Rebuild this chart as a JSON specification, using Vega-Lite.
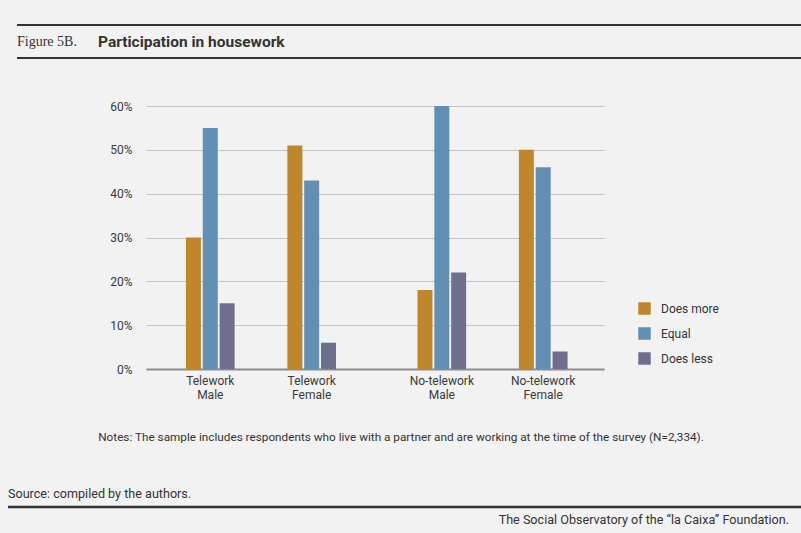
{
  "$schema": "https://vega.github.io/schema/vega-lite/v6.json",
  "background": "#f2f2f2",
  "padding": {"left": 6, "top": 24, "right": 0, "bottom": 8},
  "datasets": {
    "bars": [
      {"work": "Telework", "group": "Telework Male", "type": "Does more", "share": 0.30},
      {"work": "Telework", "group": "Telework Male", "type": "Equal", "share": 0.55},
      {"work": "Telework", "group": "Telework Male", "type": "Does less", "share": 0.15},
      {"work": "Telework", "group": "Telework Female", "type": "Does more", "share": 0.51},
      {"work": "Telework", "group": "Telework Female", "type": "Equal", "share": 0.43},
      {"work": "Telework", "group": "Telework Female", "type": "Does less", "share": 0.06},
      {"work": "No-telework", "group": "No-telework Male", "type": "Does more", "share": 0.18},
      {"work": "No-telework", "group": "No-telework Male", "type": "Equal", "share": 0.60},
      {"work": "No-telework", "group": "No-telework Male", "type": "Does less", "share": 0.22},
      {"work": "No-telework", "group": "No-telework Female", "type": "Does more", "share": 0.50},
      {"work": "No-telework", "group": "No-telework Female", "type": "Equal", "share": 0.46},
      {"work": "No-telework", "group": "No-telework Female", "type": "Does less", "share": 0.04}
    ]
  },
  "spacing": 41,
  "vconcat": [
    {
      "spacing": 0,
      "bounds": "flush",
      "hconcat": [
        {"width": 9, "height": 33, "data": {"values": []}, "mark": "rect"},
        {
          "width": 784,
          "height": 33,
          "layer": [
            {
              "data": {"values": [{"pos": "top"}, {"pos": "bottom"}]},
              "mark": {"type": "rule", "color": "#333333", "strokeWidth": 2},
              "encoding": {
                "y": {
                  "field": "pos",
                  "type": "nominal",
                  "scale": {"type": "point", "padding": 0, "domain": ["top", "mid", "bottom"]},
                  "axis": null
                }
              }
            },
            {
              "data": {"values": [{"pos": "mid", "part": "figure", "text": "Figure 5B."}]},
              "mark": {"type": "text", "align": "left", "baseline": "middle", "font": "Liberation Serif", "fontSize": 14, "color": "#333333"},
              "encoding": {
                "y": {"field": "pos", "type": "nominal"},
                "x": {"field": "part", "type": "nominal", "scale": {"type": "point", "padding": 0, "domain": ["figure", "title"], "range": [0, 81]}, "axis": null},
                "text": {"field": "text"}
              }
            },
            {
              "data": {"values": [{"pos": "mid", "part": "title", "text": "Participation in housework"}]},
              "mark": {"type": "text", "align": "left", "baseline": "middle", "font": "Roboto", "fontWeight": "bold", "fontSize": 15.5, "color": "#333333"},
              "encoding": {
                "y": {"field": "pos", "type": "nominal"},
                "x": {"field": "part", "type": "nominal"},
                "text": {"field": "text"}
              }
            }
          ]
        }
      ]
    },
    {
      "spacing": 32,
      "vconcat": [
        {
          "spacing": 0,
          "bounds": "flush",
          "hconcat": [
            {"width": 138, "height": 263, "data": {"values": []}, "mark": "rect"},
            {
              "width": 232,
              "height": 263,
              "data": {"name": "bars"},
              "transform": [{"filter": "datum.work == 'Telework'"}],
              "mark": "bar",
              "encoding": {
                "x": {
                  "field": "group",
                  "type": "nominal",
                  "sort": ["Telework Male", "Telework Female"],
                  "scale": {"paddingInner": 0.52, "paddingOuter": 0.404, "align": 0.4876},
                  "axis": {"title": null, "labelAngle": 0, "ticks": false, "domainColor": "#8c8c8c", "domainWidth": 2, "labelPadding": 6, "labelExpr": "split(datum.label, ' ')", "labelLineHeight": 14}
                },
                "xOffset": {
                  "field": "type",
                  "sort": ["Does more", "Equal", "Does less"],
                  "scale": {"paddingInner": 0.11, "paddingOuter": 0}
                },
                "y": {
                  "field": "share",
                  "type": "quantitative",
                  "scale": {"domain": [0, 0.6]},
                  "axis": {"title": null, "format": ".0%", "values": [0, 0.1, 0.2, 0.3, 0.4, 0.5, 0.6], "ticks": false, "domain": false, "labelPadding": 14}
                },
                "color": {
                  "field": "type",
                  "type": "nominal",
                  "scale": {"domain": ["Does more", "Equal", "Does less"], "range": ["#c0872a", "#6290b4", "#6f6f8d"]},
                  "legend": {"orient": "none", "legendX": 630, "legendY": 277, "title": null, "symbolType": "square", "symbolSize": 156, "symbolStrokeWidth": 0, "labelFontSize": 12, "labelColor": "#333333", "rowPadding": 12, "labelOffset": 10}
                }
              }
            },
            {
              "width": 226,
              "height": 263,
              "data": {"name": "bars"},
              "transform": [{"filter": "datum.work == 'No-telework'"}],
              "mark": "bar",
              "encoding": {
                "x": {
                  "field": "group",
                  "type": "nominal",
                  "sort": ["No-telework Male", "No-telework Female"],
                  "scale": {"paddingInner": 0.52, "paddingOuter": 0.3744, "align": 0.52},
                  "axis": {"title": null, "labelAngle": 0, "ticks": false, "domainColor": "#8c8c8c", "domainWidth": 2, "labelPadding": 6, "labelExpr": "split(datum.label, ' ')", "labelLineHeight": 14}
                },
                "xOffset": {
                  "field": "type",
                  "sort": ["Does more", "Equal", "Does less"],
                  "scale": {"paddingInner": 0.11, "paddingOuter": 0}
                },
                "y": {
                  "field": "share",
                  "type": "quantitative",
                  "scale": {"domain": [0, 0.6]},
                  "axis": {"title": null, "labels": false, "values": [0, 0.1, 0.2, 0.3, 0.4, 0.5, 0.6], "ticks": false, "domain": false, "minExtent": 0, "maxExtent": 0}
                },
                "color": {"field": "type", "type": "nominal"}
              }
            }
          ]
        },
        {
          "width": 793,
          "height": 26,
          "title": {"text": "Notes: The sample includes respondents who live with a partner and are working at the time of the survey (N=2,334).", "orient": "top", "anchor": "middle", "fontSize": 11.75, "fontWeight": "normal", "color": "#333333", "offset": 44, "dx": -3.5},
          "layer": [
            {
              "data": {"values": [{"pos": "rule"}]},
              "mark": {"type": "rule", "color": "#333333", "strokeWidth": 2.5},
              "encoding": {
                "y": {"field": "pos", "type": "nominal", "scale": {"type": "point", "padding": 0, "domain": ["source", "rule", "foundation"]}, "axis": null}
              }
            },
            {
              "data": {"values": [{"pos": "source", "text": "Source: compiled by the authors."}]},
              "mark": {"type": "text", "align": "left", "baseline": "middle", "fontSize": 12.6, "color": "#333333"},
              "encoding": {
                "y": {"field": "pos", "type": "nominal"},
                "x": {"field": "pos", "type": "nominal", "scale": {"type": "point", "padding": 0, "domain": ["source", "foundation"]}, "axis": null},
                "text": {"field": "text"}
              }
            },
            {
              "data": {"values": [{"pos": "foundation", "text": "The Social Observatory of the “la Caixa” Foundation."}]},
              "mark": {"type": "text", "align": "right", "baseline": "middle", "dx": -12, "fontSize": 12.6, "color": "#333333"},
              "encoding": {
                "y": {"field": "pos", "type": "nominal"},
                "x": {"field": "pos", "type": "nominal"},
                "text": {"field": "text"}
              }
            }
          ]
        }
      ]
    }
  ],
  "config": {
    "font": "Roboto",
    "view": {"stroke": null},
    "axis": {"labelFont": "Roboto", "labelFontSize": 12, "labelColor": "#3a3a3a", "gridColor": "#c4c4c4", "gridWidth": 1},
    "legend": {"labelFont": "Roboto"},
    "title": {"font": "Roboto"}
  }
}
